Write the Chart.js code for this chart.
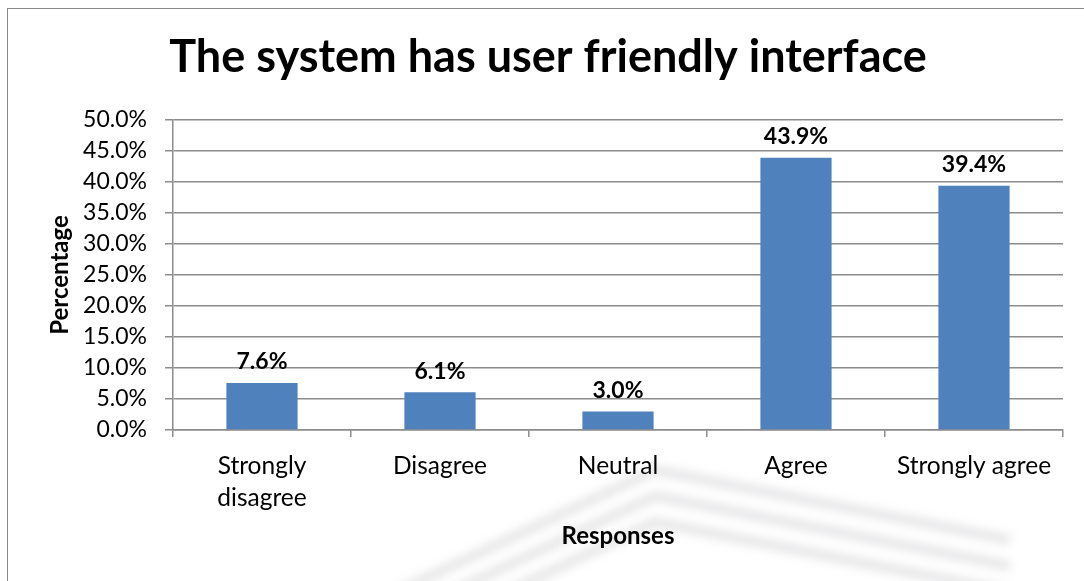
<!DOCTYPE html>
<html>
<head>
<meta charset="utf-8">
<script src="https://cdn.jsdelivr.net/npm/chart.js@4.4.1/dist/chart.umd.min.js"></script>
<style>
  body { margin: 0; background: #fff; }
  #frame { position: absolute; left: 7px; top: 8px; width: 1100px; height: 600px;
           border-left: 1.5px solid #8a8a8a; border-top: 1.5px solid #8a8a8a; }
  #wrap { position: absolute; left: 0; top: 0; width: 1084px; height: 581px; }
</style>
</head>
<body>
<div id="frame"></div>
<div id="wrap"><canvas id="my-chart" width="1084" height="581"></canvas></div>
<script>
const chartTitle = 'The system has user friendly interface';
const responses = [['Strongly', 'disagree'], 'Disagree', 'Neutral', 'Agree', 'Strongly agree'];
const percentages = [7.6, 6.1, 3.0, 43.9, 39.4];
const yTicks = [0, 5, 10, 15, 20, 25, 30, 35, 40, 45, 50];

const FONT = 'Lato, "Open Sans", sans-serif';
const gridGrey = '#8c8c8c';

// faint watermark bands seen behind the bottom of the original picture
const watermark = {
  id: 'watermark',
  beforeDraw(chart) {
    const c = chart.ctx;
    c.save();
    c.filter = 'blur(5px)';
    c.strokeStyle = 'rgba(170,170,175,0.28)';
    c.lineWidth = 10;
    c.lineJoin = 'round';
    [0, 26, 52].forEach(d => {
      c.beginPath();
      c.moveTo(380, 600 + d);
      c.lineTo(655, 470 + d);
      c.lineTo(1010, 540 + d);
      c.stroke();
    });
    c.restore();
  }
};

// title drawn by hand so it sits where the original has it (a bit right of canvas centre)
const chartHeading = {
  id: 'chartHeading',
  afterDraw(chart) {
    const c = chart.ctx;
    c.save();
    c.font = 'bold 45px ' + FONT;
    c.fillStyle = '#000';
    c.textAlign = 'center';
    c.textBaseline = 'middle';
    c.fillText(chartTitle, 548, 57);
    c.restore();
  }
};

// value labels drawn above each bar
const barLabels = {
  id: 'barLabels',
  afterDatasetsDraw(chart) {
    const ctx = chart.ctx;
    const meta = chart.getDatasetMeta(0);
    ctx.save();
    ctx.font = 'bold 23px ' + FONT;
    ctx.fillStyle = '#000';
    ctx.textAlign = 'center';
    ctx.textBaseline = 'middle';
    meta.data.forEach((bar, i) => {
      ctx.fillText(percentages[i].toFixed(1) + '%', bar.x, bar.y - 21);
    });
    ctx.restore();
  }
};

const ctx = document.getElementById('my-chart').getContext('2d');
const chart = new Chart(ctx, {
  type: 'bar',
  data: {
    labels: responses,
    datasets: [{
      data: percentages,
      backgroundColor: '#4f81bd',
      borderWidth: 0,
      categoryPercentage: 0.4,
      barPercentage: 1.0
    }]
  },
  options: {
    responsive: false,
    animation: false,
    devicePixelRatio: 1,
    layout: { padding: { left: 0, right: 21, top: 120, bottom: 0 } },
    plugins: {
      legend: { display: false },
      tooltip: { enabled: false },
      title: { display: false }
    },
    scales: {
      x: {
        grid: { display: true, drawOnChartArea: false, drawTicks: true, tickLength: 7, color: gridGrey, lineWidth: 1.5 },
        border: { display: true, color: gridGrey, width: 1.5 },
        ticks: { color: '#000', padding: 14, maxRotation: 0, autoSkip: false,
                 font: { family: FONT, size: 24.5, lineHeight: 1.27 } },
        title: { display: true, text: 'Responses', color: '#000',
                 font: { family: FONT, size: 24, weight: 'bold', lineHeight: 1.2 },
                 padding: { top: 0, bottom: 30 } },
        afterFit(scale) { scale.height = 151; }
      },
      y: {
        min: 0,
        max: 50,
        afterBuildTicks(scale) { scale.ticks = yTicks.map(v => ({ value: v })); },
        grid: { color: gridGrey, lineWidth: 1.5, tickLength: 8 },
        border: { display: true, color: gridGrey, width: 1.5 },
        ticks: { color: '#000', padding: 18,
                 font: { family: FONT, size: 23 },
                 callback: v => v.toFixed(1) + '%' },
        title: { display: true, text: 'Percentage', color: '#000',
                 font: { family: FONT, size: 24, weight: 'bold', lineHeight: 1.2 },
                 padding: { top: 46, bottom: 0 } },
        afterFit(scale) { scale.width = 173; }
      }
    }
  },
  plugins: [watermark, barLabels, chartHeading]
});
</script>
</body>
</html>
